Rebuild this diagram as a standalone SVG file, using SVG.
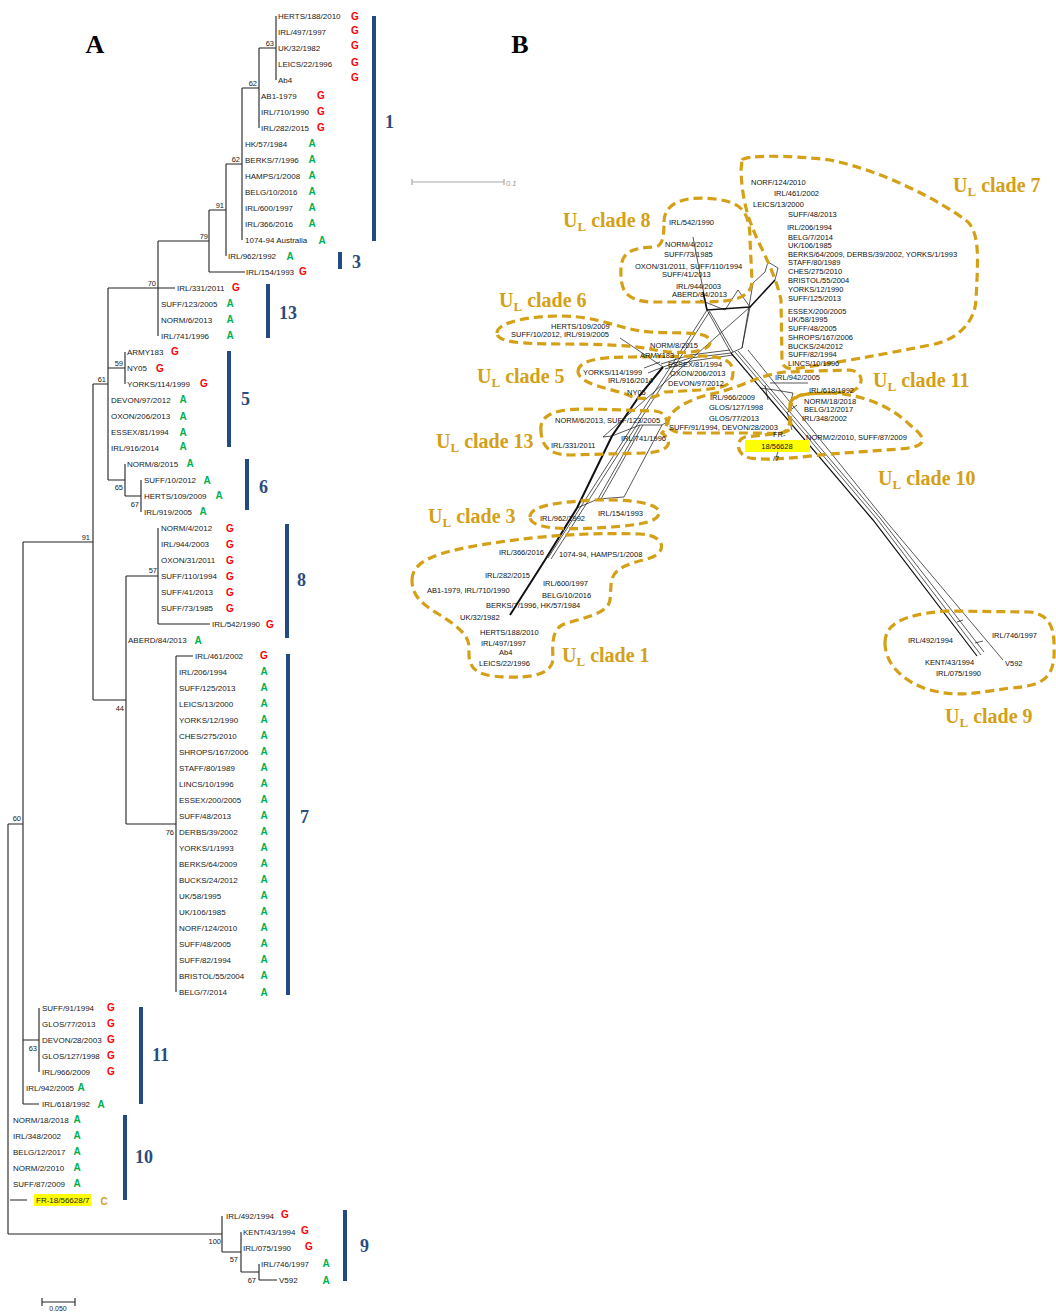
<svg xmlns="http://www.w3.org/2000/svg" width="1056" height="1313" viewBox="0 0 1056 1313">
<style>
.lf{font-family:"Liberation Sans",Arial,sans-serif;font-size:8px;fill:#222}
.bs{font-family:"Liberation Sans",Arial,sans-serif;font-size:7.5px;fill:#222;text-anchor:end}
.g{font-family:"Liberation Sans",Arial,sans-serif;font-size:10px;font-weight:bold;fill:#ff0000;text-anchor:middle}
.a{font-family:"Liberation Sans",Arial,sans-serif;font-size:10px;font-weight:bold;fill:#00b050;text-anchor:middle}
.c{font-family:"Liberation Sans",Arial,sans-serif;font-size:10px;font-weight:bold;fill:#d4a020;text-anchor:middle}
.cn{font-family:"Liberation Serif","Times New Roman",serif;font-size:18px;font-weight:bold;fill:#2b4c7e}
.pn{font-family:"Liberation Serif","Times New Roman",serif;font-size:26px;font-weight:bold;fill:#000;text-anchor:middle}
.bar{fill:#234a82}
.tr{stroke:#222;stroke-width:1.1;fill:none}
.nl{font-family:"Liberation Sans",Arial,sans-serif;font-size:7.5px;fill:#111}
.ct{font-family:"Liberation Serif","Times New Roman",serif;font-size:20px;font-weight:bold;fill:#d4a017}
.ol{fill:none;stroke:#d4a017;stroke-width:3.2;stroke-dasharray:9 5}
.nw{stroke:#111;fill:none;stroke-width:0.7}
.nt{stroke:#111;fill:none;stroke-width:2}
</style>

<text class="pn" x="95" y="53">A</text>
<text class="pn" x="520" y="53">B</text>

<g id="tree-edges">
<path class="tr" d="M276,16V80M259,48H276M259,48V128M242,88H259M242,88V240M226,164H242M226,164V256M209,210H226M209,210V272M209,272H245M158,241H209M158,241V336M158,288H175M108,288H158M108,288V480M93,384H108M108,368H125M125,352V384M108,480H125M125,464V496M125,496H141M141,480V512M93,384V700M23,542H93M93,700H126M126,576V824M126,576H158M158,528V624M158,624H210M126,824H176M176,656V992M176,656H193M8,824H23M23,542V1104M23,1040H39M39,1008V1072M23,1104H39M8,824V1234M10,1200H27M8,1234H222M222,1216V1252M222,1252H241M241,1232V1272M241,1272H259M259,1264V1280M259,1280H277"/>
<path class="tr" d="M42,1302H75M42,1298V1306M75,1298V1306"/>
<text x="58" y="1311" text-anchor="middle" font-family="Liberation Sans,Arial,sans-serif" font-size="7" fill="#222">0.050</text>
</g>

<g id="bootstrap">
<text class="bs" x="274" y="46">63</text>
<text class="bs" x="257" y="86">62</text>
<text class="bs" x="240" y="162">62</text>
<text class="bs" x="224" y="208">91</text>
<text class="bs" x="208" y="239">79</text>
<text class="bs" x="156" y="286">70</text>
<text class="bs" x="123" y="366">59</text>
<text class="bs" x="106" y="382">61</text>
<text class="bs" x="123" y="490">65</text>
<text class="bs" x="139" y="507">67</text>
<text class="bs" x="90" y="540">91</text>
<text class="bs" x="157" y="573">57</text>
<text class="bs" x="124" y="711">44</text>
<text class="bs" x="174" y="835">76</text>
<text class="bs" x="21" y="821">60</text>
<text class="bs" x="37" y="1051">63</text>
<text class="bs" x="221" y="1244">100</text>
<text class="bs" x="238" y="1262">57</text>
<text class="bs" x="256" y="1283">67</text>
</g>

<g id="leaves">
<text class="lf" x="278" y="19">HERTS/188/2010</text><text class="g" x="355" y="20">G</text>
<text class="lf" x="278" y="35">IRL/497/1997</text><text class="g" x="355" y="34">G</text>
<text class="lf" x="278" y="51">UK/32/1982</text><text class="g" x="355" y="49">G</text>
<text class="lf" x="278" y="67">LEICS/22/1996</text><text class="g" x="355" y="66">G</text>
<text class="lf" x="278" y="83">Ab4</text><text class="g" x="355" y="81">G</text>
<text class="lf" x="261" y="99">AB1-1979</text><text class="g" x="321" y="99">G</text>
<text class="lf" x="261" y="115">IRL/710/1990</text><text class="g" x="321" y="115">G</text>
<text class="lf" x="261" y="131">IRL/282/2015</text><text class="g" x="321" y="131">G</text>
<text class="lf" x="245" y="147">HK/57/1984</text><text class="a" x="312" y="147">A</text>
<text class="lf" x="245" y="163">BERKS/7/1996</text><text class="a" x="312" y="163">A</text>
<text class="lf" x="245" y="179">HAMPS/1/2008</text><text class="a" x="312" y="179">A</text>
<text class="lf" x="245" y="195">BELG/10/2016</text><text class="a" x="312" y="195">A</text>
<text class="lf" x="245" y="211">IRL/600/1997</text><text class="a" x="312" y="211">A</text>
<text class="lf" x="245" y="227">IRL/366/2016</text><text class="a" x="312" y="227">A</text>
<text class="lf" x="245" y="243">1074-94 Australia</text><text class="a" x="322" y="244">A</text>
<text class="lf" x="228" y="259">IRL/962/1992</text><text class="a" x="290" y="260">A</text>
<text class="lf" x="246" y="275">IRL/154/1993</text><text class="g" x="303" y="275">G</text>
<text class="lf" x="177" y="291">IRL/331/2011</text><text class="g" x="236" y="291">G</text>
<text class="lf" x="161" y="307">SUFF/123/2005</text><text class="a" x="230" y="307">A</text>
<text class="lf" x="161" y="323">NORM/6/2013</text><text class="a" x="230" y="323">A</text>
<text class="lf" x="161" y="339">IRL/741/1996</text><text class="a" x="230" y="339">A</text>
<text class="lf" x="127" y="355">ARMY183</text><text class="g" x="175" y="355">G</text>
<text class="lf" x="127" y="371">NY05</text><text class="g" x="160" y="372">G</text>
<text class="lf" x="127" y="387">YORKS/114/1999</text><text class="g" x="204" y="387">G</text>
<text class="lf" x="111" y="403">DEVON/97/2012</text><text class="a" x="183" y="403">A</text>
<text class="lf" x="111" y="419">OXON/206/2013</text><text class="a" x="183" y="420">A</text>
<text class="lf" x="111" y="435">ESSEX/81/1994</text><text class="a" x="183" y="436">A</text>
<text class="lf" x="111" y="451">IRL/916/2014</text><text class="a" x="183" y="450">A</text>
<text class="lf" x="127" y="467">NORM/8/2015</text><text class="a" x="190" y="467">A</text>
<text class="lf" x="144" y="483">SUFF/10/2012</text><text class="a" x="207" y="484">A</text>
<text class="lf" x="144" y="499">HERTS/109/2009</text><text class="a" x="219" y="499">A</text>
<text class="lf" x="144" y="515">IRL/919/2005</text><text class="a" x="203" y="515">A</text>
<text class="lf" x="161" y="531">NORM/4/2012</text><text class="g" x="230" y="532">G</text>
<text class="lf" x="161" y="547">IRL/944/2003</text><text class="g" x="230" y="548">G</text>
<text class="lf" x="161" y="563">OXON/31/2011</text><text class="g" x="230" y="564">G</text>
<text class="lf" x="161" y="579">SUFF/110/1994</text><text class="g" x="230" y="580">G</text>
<text class="lf" x="161" y="595">SUFF/41/2013</text><text class="g" x="230" y="596">G</text>
<text class="lf" x="161" y="611">SUFF/73/1985</text><text class="g" x="230" y="612">G</text>
<text class="lf" x="212" y="627">IRL/542/1990</text><text class="g" x="270" y="628">G</text>
<text class="lf" x="128" y="643">ABERD/84/2013</text><text class="a" x="198" y="644">A</text>
<text class="lf" x="195" y="659">IRL/461/2002</text><text class="g" x="264" y="659">G</text>
<text class="lf" x="179" y="675">IRL/206/1994</text><text class="a" x="264" y="675">A</text>
<text class="lf" x="179" y="691">SUFF/125/2013</text><text class="a" x="264" y="691">A</text>
<text class="lf" x="179" y="707">LEICS/13/2000</text><text class="a" x="264" y="707">A</text>
<text class="lf" x="179" y="723">YORKS/12/1990</text><text class="a" x="264" y="723">A</text>
<text class="lf" x="179" y="739">CHES/275/2010</text><text class="a" x="264" y="739">A</text>
<text class="lf" x="179" y="755">SHROPS/167/2006</text><text class="a" x="264" y="755">A</text>
<text class="lf" x="179" y="771">STAFF/80/1989</text><text class="a" x="264" y="771">A</text>
<text class="lf" x="179" y="787">LINCS/10/1996</text><text class="a" x="264" y="787">A</text>
<text class="lf" x="179" y="803">ESSEX/200/2005</text><text class="a" x="264" y="803">A</text>
<text class="lf" x="179" y="819">SUFF/48/2013</text><text class="a" x="264" y="819">A</text>
<text class="lf" x="179" y="835">DERBS/39/2002</text><text class="a" x="264" y="835">A</text>
<text class="lf" x="179" y="851">YORKS/1/1993</text><text class="a" x="264" y="851">A</text>
<text class="lf" x="179" y="867">BERKS/64/2009</text><text class="a" x="264" y="867">A</text>
<text class="lf" x="179" y="883">BUCKS/24/2012</text><text class="a" x="264" y="883">A</text>
<text class="lf" x="179" y="899">UK/58/1995</text><text class="a" x="264" y="899">A</text>
<text class="lf" x="179" y="915">UK/106/1985</text><text class="a" x="264" y="915">A</text>
<text class="lf" x="179" y="931">NORF/124/2010</text><text class="a" x="264" y="931">A</text>
<text class="lf" x="179" y="947">SUFF/48/2005</text><text class="a" x="264" y="947">A</text>
<text class="lf" x="179" y="963">SUFF/82/1994</text><text class="a" x="264" y="963">A</text>
<text class="lf" x="179" y="979">BRISTOL/55/2004</text><text class="a" x="264" y="979">A</text>
<text class="lf" x="179" y="995">BELG/7/2014</text><text class="a" x="264" y="996">A</text>
<text class="lf" x="42" y="1011">SUFF/91/1994</text><text class="g" x="111" y="1011">G</text>
<text class="lf" x="42" y="1027">GLOS/77/2013</text><text class="g" x="111" y="1027">G</text>
<text class="lf" x="42" y="1043">DEVON/28/2003</text><text class="g" x="111" y="1043">G</text>
<text class="lf" x="42" y="1059">GLOS/127/1998</text><text class="g" x="111" y="1059">G</text>
<text class="lf" x="42" y="1075">IRL/966/2009</text><text class="g" x="111" y="1075">G</text>
<text class="lf" x="26" y="1091">IRL/942/2005</text><text class="a" x="81" y="1091">A</text>
<text class="lf" x="42" y="1107">IRL/618/1992</text><text class="a" x="101" y="1108">A</text>
<text class="lf" x="13" y="1123">NORM/18/2018</text><text class="a" x="77" y="1123">A</text>
<text class="lf" x="13" y="1139">IRL/348/2002</text><text class="a" x="77" y="1139">A</text>
<text class="lf" x="13" y="1155">BELG/12/2017</text><text class="a" x="77" y="1155">A</text>
<text class="lf" x="13" y="1171">NORM/2/2010</text><text class="a" x="77" y="1171">A</text>
<text class="lf" x="13" y="1187">SUFF/87/2009</text><text class="a" x="77" y="1187">A</text>
<rect x="34" y="1194" width="57" height="12" fill="#ffff00"/>
<text class="lf" x="36" y="1203">FR-18/56628/7</text><text class="c" x="104" y="1205">C</text>
<text class="lf" x="226" y="1219">IRL/492/1994</text><text class="g" x="285" y="1218">G</text>
<text class="lf" x="243" y="1235">KENT/43/1994</text><text class="g" x="305" y="1234">G</text>
<text class="lf" x="243" y="1251">IRL/075/1990</text><text class="g" x="309" y="1250">G</text>
<text class="lf" x="261" y="1267">IRL/746/1997</text><text class="a" x="326" y="1267">A</text>
<text class="lf" x="279" y="1283">V592</text><text class="a" x="326" y="1284">A</text>
</g>

<g id="clade-bars">
<rect class="bar" x="372" y="16" width="4" height="225"/><text class="cn" x="385" y="128">1</text>
<rect class="bar" x="338" y="252" width="4" height="17"/><text class="cn" x="352" y="268">3</text>
<rect class="bar" x="266" y="284" width="4" height="54"/><text class="cn" x="279" y="319">13</text>
<rect class="bar" x="227" y="351" width="4" height="96"/><text class="cn" x="241" y="405">5</text>
<rect class="bar" x="245" y="459" width="4" height="51"/><text class="cn" x="259" y="493">6</text>
<rect class="bar" x="285" y="524" width="4" height="114"/><text class="cn" x="297" y="586">8</text>
<rect class="bar" x="286" y="654" width="4" height="341"/><text class="cn" x="300" y="823">7</text>
<rect class="bar" x="139" y="1007" width="4" height="97"/><text class="cn" x="152" y="1061">11</text>
<rect class="bar" x="123" y="1115" width="4" height="85"/><text class="cn" x="135" y="1163">10</text>
<rect class="bar" x="343" y="1210" width="4" height="71"/><text class="cn" x="360" y="1252">9</text>
</g>

<g id="network-lines">
<path d="M412,182H504M412,179V185M504,179V185" stroke="#aaa" stroke-width="1.2" fill="none"/>
<text x="506" y="186" font-family="Liberation Sans,Arial,sans-serif" font-size="7.5" font-style="italic" fill="#999">0.1</text>
<path class="nt" d="M510,615L545,560L577,508L612,436L640,395L663,367"/>
<path class="nw" d="M663,367L690,358L731,353M661,364L690,355L730,350M665,369L692,361L733,355"/>
<path class="nw" d="M548,558L707,310M551,559L710,311"/>
<path class="nw" d="M603,437L750,307"/>
<path class="nw" d="M577,508L598,499L624,497L662,425M598,499L640,425M601,499L643,425M640,425L662,425L670,420M603,437L612,436L640,425"/>
<path class="nw" d="M620,338L663,367M648,373L663,367M644,368L660,362"/>
<path class="nt" style="stroke-width:1.6" d="M707,310L750,307L775,280M703,292L707,310"/>
<path class="nw" d="M707,310L731,353M710,312L733,352M750,307L742,348L731,353M753,283L742,348M765,272L753,283M775,280L778,268L768,262L765,272M693,237L707,310M700,300L725,310L738,290L750,307"/>
<path class="nw" style="stroke-width:1.2" d="M731,353L873,520L977,656"/>
<path class="nw" d="M735,352L877,519L981,655M738,351L880,518L984,652M748,350L885,520L1003,660M957,622L963,620M975,643L983,641"/>
<path class="nw" d="M760,388L775,390L793,393L788,412L797,405M765,385L768,400M770,383L808,383M787,412L792,430M776,458L780,445"/>
</g>

<g id="clade-outlines">
<path class="ol" d="M664,222C664,200 690,196 715,199C740,202 750,210 750,240L752,280C752,298 735,302 700,302L650,302C625,300 620,290 621,268C622,250 635,248 655,247C663,246 664,235 664,222Z"/>
<path class="ol" d="M742,160C745,155 790,155 830,160C880,170 940,200 968,222C980,235 978,260 976,300C975,320 960,340 930,345C880,355 840,362 800,368C790,370 782,368 782,360L781,300C778,285 770,265 760,245C748,220 742,200 741,170Z"/>
<path class="ol" d="M497,333C497,322 530,316 560,316C600,316 620,330 650,332C680,334 712,330 710,343C708,354 675,354 655,350C630,345 600,344 560,344C520,344 497,342 497,333Z"/>
<path class="ol" d="M578,372C578,360 600,357 630,357L700,356C725,356 733,362 733,372C733,385 725,388 700,390L665,392C650,400 640,400 628,395C610,388 580,385 578,372Z"/>
<path class="ol" d="M541,432C538,412 560,409 590,409L655,411C668,412 670,425 662,433C675,443 668,452 645,453L570,455C548,455 542,445 541,432Z"/>
<path class="ol" d="M530,517C530,505 560,502 595,500C630,499 660,503 659,513C658,524 630,526 595,528C560,530 530,528 530,517Z"/>
<path class="ol" d="M412,580C412,560 440,552 480,545C530,537 580,532 640,534C665,535 668,552 650,558C625,565 612,568 611,585L610,600C608,615 580,618 562,625C550,632 553,650 553,660C551,675 530,678 505,677C475,676 468,668 469,650C470,636 460,628 440,615C420,603 412,595 412,580Z"/>
<path class="ol" d="M668,425C666,410 690,398 720,392C745,385 760,375 785,372L850,370C866,372 864,390 848,392L805,394C790,396 788,410 791,424C793,434 775,434 760,433L690,433C674,433 669,430 668,425Z"/>
<path class="ol" d="M790,404C792,395 805,393 830,393C860,394 890,405 910,425C930,440 925,447 900,449L830,454C800,457 770,461 750,458C736,455 735,440 745,437L782,433C792,430 790,415 790,404Z"/>
<path class="ol" d="M885,643C885,625 900,615 945,611L1030,612C1052,615 1055,630 1054,657C1052,680 1040,686 1010,688C980,692 960,698 930,690C905,683 885,665 885,643Z"/>
</g>

<g id="clade-titles">
<text class="ct" x="563" y="227">U<tspan font-size="13" dy="4">L</tspan><tspan dy="-4"> clade 8</tspan></text>
<text class="ct" x="499" y="307">U<tspan font-size="13" dy="4">L</tspan><tspan dy="-4"> clade 6</tspan></text>
<text class="ct" x="953" y="192">U<tspan font-size="13" dy="4">L</tspan><tspan dy="-4"> clade 7</tspan></text>
<text class="ct" x="477" y="383">U<tspan font-size="13" dy="4">L</tspan><tspan dy="-4"> clade 5</tspan></text>
<text class="ct" x="436" y="448">U<tspan font-size="13" dy="4">L</tspan><tspan dy="-4"> clade 13</tspan></text>
<text class="ct" x="428" y="523">U<tspan font-size="13" dy="4">L</tspan><tspan dy="-4"> clade 3</tspan></text>
<text class="ct" x="873" y="387">U<tspan font-size="13" dy="4">L</tspan><tspan dy="-4"> clade 11</tspan></text>
<text class="ct" x="878" y="485">U<tspan font-size="13" dy="4">L</tspan><tspan dy="-4"> clade 10</tspan></text>
<text class="ct" x="562" y="662">U<tspan font-size="13" dy="4">L</tspan><tspan dy="-4"> clade 1</tspan></text>
<text class="ct" x="945" y="723">U<tspan font-size="13" dy="4">L</tspan><tspan dy="-4"> clade 9</tspan></text>
</g>

<g id="network-labels">
<text class="nl" x="669" y="225">IRL/542/1990</text>
<text class="nl" x="665" y="247">NORM/4/2012</text>
<text class="nl" x="664" y="257">SUFF/73/1985</text>
<text class="nl" x="635" y="269">OXON/31/2011, SUFF/110/1994</text>
<text class="nl" x="662" y="277">SUFF/41/2013</text>
<text class="nl" x="676" y="289">IRL/944/2003</text>
<text class="nl" x="672" y="297">ABERD/84/2013</text>
<text class="nl" x="551" y="329">HERTS/109/2009</text>
<text class="nl" x="511" y="337">SUFF/10/2012, IRL/919/2005</text>
<text class="nl" x="751" y="185">NORF/124/2010</text>
<text class="nl" x="774" y="196">IRL/461/2002</text>
<text class="nl" x="753" y="207">LEICS/13/2000</text>
<text class="nl" x="788" y="217">SUFF/48/2013</text>
<text class="nl" x="787" y="230">IRL/206/1994</text>
<text class="nl" x="788" y="240">BELG/7/2014</text>
<text class="nl" x="788" y="248">UK/106/1985</text>
<text class="nl" x="788" y="257">BERKS/64/2009, DERBS/39/2002, YORKS/1/1993</text>
<text class="nl" x="788" y="265">STAFF/80/1989</text>
<text class="nl" x="788" y="274">CHES/275/2010</text>
<text class="nl" x="788" y="283">BRISTOL/55/2004</text>
<text class="nl" x="788" y="292">YORKS/12/1990</text>
<text class="nl" x="788" y="301">SUFF/125/2013</text>
<text class="nl" x="788" y="314">ESSEX/200/2005</text>
<text class="nl" x="788" y="322">UK/58/1995</text>
<text class="nl" x="788" y="331">SUFF/48/2005</text>
<text class="nl" x="788" y="340">SHROPS/167/2006</text>
<text class="nl" x="788" y="349">BUCKS/24/2012</text>
<text class="nl" x="788" y="357">SUFF/82/1994</text>
<text class="nl" x="788" y="366">LINCS/10/1996</text>
<text class="nl" x="775" y="380">IRL/942/2005</text>
<text class="nl" x="650" y="348">NORM/8/2015</text>
<text class="nl" x="640" y="358">ARMY183</text>
<text class="nl" x="668" y="367">ESSEX/81/1994</text>
<text class="nl" x="670" y="376">OXON/206/2013</text>
<text class="nl" x="668" y="386">DEVON/97/2012</text>
<text class="nl" x="583" y="375">YORKS/114/1999</text>
<text class="nl" x="608" y="383">IRL/916/2014</text>
<text class="nl" x="627" y="395">NY05</text>
<text class="nl" x="555" y="423">NORM/6/2013, SUFF/123/2005</text>
<text class="nl" x="551" y="448">IRL/331/2011</text>
<text class="nl" x="621" y="441">IRL/741/1996</text>
<text class="nl" x="540" y="521">IRL/962/1992</text>
<text class="nl" x="598" y="516">IRL/154/1993</text>
<text class="nl" x="710" y="400">IRL/966/2009</text>
<text class="nl" x="709" y="410">GLOS/127/1998</text>
<text class="nl" x="709" y="421">GLOS/77/2013</text>
<text class="nl" x="669" y="430">SUFF/91/1994, DEVON/28/2003</text>
<text class="nl" x="809" y="393">IRL/618/1992</text>
<text class="nl" x="804" y="404">NORM/18/2018</text>
<text class="nl" x="804" y="412">BELG/12/2017</text>
<text class="nl" x="802" y="421">IRL/348/2002</text>
<text class="nl" x="806" y="440">NORM/2/2010, SUFF/87/2009</text>
<text class="nl" x="773" y="437">FR-</text>
<rect x="745" y="440" width="65" height="12" fill="#ffff00"/>
<text class="nl" x="777" y="449" text-anchor="middle">18/56628</text>
<text class="nl" x="773" y="461">/7</text>
<text class="nl" x="499" y="555">IRL/366/2016</text>
<text class="nl" x="559" y="557">1074-94, HAMPS/1/2008</text>
<text class="nl" x="485" y="578">IRL/282/2015</text>
<text class="nl" x="543" y="586">IRL/600/1997</text>
<text class="nl" x="427" y="593">AB1-1979, IRL/710/1990</text>
<text class="nl" x="542" y="598">BELG/10/2016</text>
<text class="nl" x="486" y="608">BERKS/7/1996, HK/57/1984</text>
<text class="nl" x="460" y="620">UK/32/1982</text>
<text class="nl" x="480" y="635">HERTS/188/2010</text>
<text class="nl" x="481" y="646">IRL/497/1997</text>
<text class="nl" x="499" y="655">Ab4</text>
<text class="nl" x="479" y="666">LEICS/22/1996</text>
<text class="nl" x="908" y="643">IRL/492/1994</text>
<text class="nl" x="992" y="638">IRL/746/1997</text>
<text class="nl" x="925" y="665">KENT/43/1994</text>
<text class="nl" x="1005" y="666">V592</text>
<text class="nl" x="936" y="676">IRL/075/1990</text>
</g>
</svg>
